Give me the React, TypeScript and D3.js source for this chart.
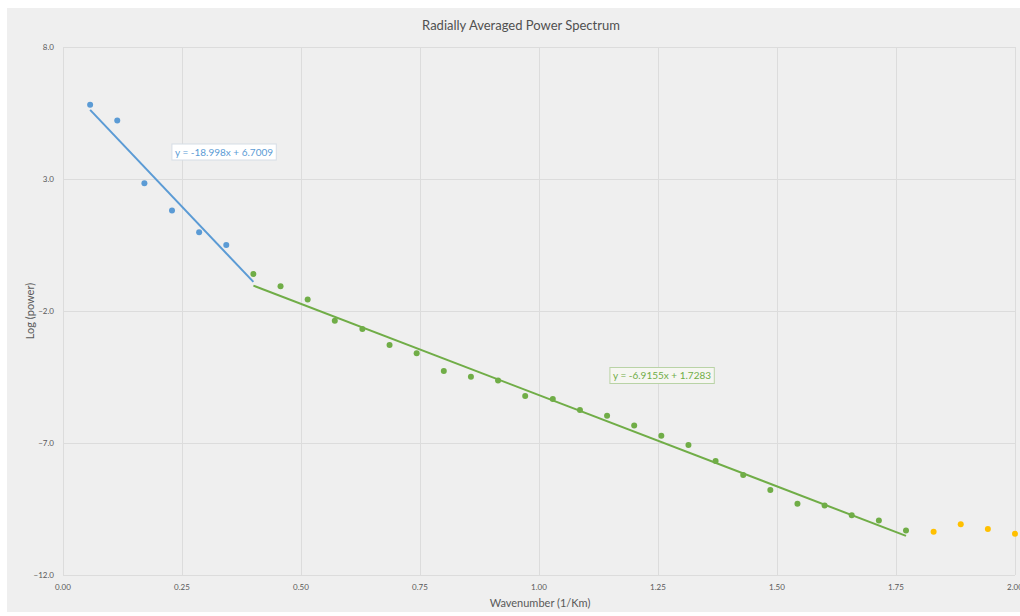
import React, { useEffect, useRef } from 'react';
import * as d3 from 'd3';

// wavenumber (1/Km) and log(power)
const blueX = [0.057, 0.114, 0.171, 0.229, 0.286, 0.343];
const blueY = [5.81, 5.22, 2.84, 1.81, 0.98, 0.5];
const greenX = [
  0.4, 0.457, 0.514, 0.571, 0.629, 0.686, 0.743, 0.8, 0.857, 0.914, 0.971, 1.029, 1.086,
  1.143, 1.2, 1.257, 1.314, 1.371, 1.429, 1.486, 1.543, 1.6, 1.657, 1.714, 1.771,
];
const greenY = [
  -0.6, -1.06, -1.56, -2.37, -2.68, -3.29, -3.6, -4.27, -4.49, -4.63, -5.22, -5.33, -5.75,
  -5.97, -6.34, -6.73, -7.08, -7.68, -8.21, -8.78, -9.3, -9.37, -9.74, -9.94, -10.31,
];
const yellowX = [1.829, 1.886, 1.943, 2.0];
const yellowY = [-10.36, -10.08, -10.26, -10.44];

// trendline coefficients, as printed on the chart, and the x span each is drawn over
const blueFit = { slope: -18.998, icept: 6.7009, from: 0.057, to: 0.4, label: 'y = -18.998x + 6.7009' };
const greenFit = { slope: -6.9155, icept: 1.7283, from: 0.4, to: 1.771, label: 'y = -6.9155x + 1.7283' };

const xTicks = [0, 0.25, 0.5, 0.75, 1, 1.25, 1.5, 1.75, 2];
const yTicks = [8, 3, -2, -7, -12];

const W = 1020;
const H = 616;
const margin = { top: 47, right: 5, bottom: 41, left: 63 };

const BLUE = '#5b9bd5';
const GREEN = '#70ad47';
const YELLOW = '#ffc000';
const TXT = '#595959';
const FONT = 'Lato, "Liberation Sans", sans-serif';

export default function App() {
  const ref = useRef<SVGSVGElement>(null);

  useEffect(() => {
    const svg = d3.select(ref.current);
    svg.selectAll('*').remove();

    const x = d3.scaleLinear().domain([0, 2]).range([margin.left, W - margin.right]);
    const y = d3.scaleLinear().domain([-12, 8]).range([H - margin.bottom, margin.top]);

    svg.append('rect').attr('width', W).attr('height', H).attr('fill', '#ffffff');
    svg.append('rect').attr('x', 7).attr('y', 8).attr('width', W - 7).attr('height', H - 12).attr('fill', '#efefef');

    // grid
    const grid = svg.append('g').attr('stroke', '#dcdcdc').attr('stroke-width', 1);
    grid.selectAll('line.v').data(xTicks).join('line')
      .attr('class', 'v')
      .attr('x1', d => Math.round(x(d)) + 0.5).attr('x2', d => Math.round(x(d)) + 0.5)
      .attr('y1', y(8)).attr('y2', y(-12));
    grid.selectAll('line.h').data(yTicks).join('line')
      .attr('class', 'h')
      .attr('y1', d => Math.round(y(d)) + 0.5).attr('y2', d => Math.round(y(d)) + 0.5)
      .attr('x1', x(0)).attr('x2', x(2));

    // tick labels
    svg.append('g').selectAll('text').data(xTicks).join('text')
      .attr('x', d => x(d)).attr('y', y(-12) + 15)
      .attr('text-anchor', 'middle')
      .attr('font-family', FONT).attr('font-size', 8).attr('fill', TXT)
      .text(d => d3.format('.2f')(d));
    svg.append('g').selectAll('text').data(yTicks).join('text')
      .attr('x', x(0) - 9).attr('y', d => y(d) + 3)
      .attr('text-anchor', 'end')
      .attr('font-family', FONT).attr('font-size', 8).attr('fill', TXT)
      .text(d => d3.format('.1f')(d));

    // titles
    svg.append('text')
      .attr('x', 521).attr('y', 30)
      .attr('text-anchor', 'middle')
      .attr('font-family', FONT).attr('font-size', 13).attr('fill', '#505050')
      .text('Radially Averaged Power Spectrum');
    svg.append('text')
      .attr('x', 540).attr('y', 607)
      .attr('text-anchor', 'middle')
      .attr('font-family', FONT).attr('font-size', 11).attr('fill', TXT)
      .text('Wavenumber (1/Km)');
    svg.append('text')
      .attr('transform', `translate(34,${(margin.top + H - margin.bottom) / 2}) rotate(-90)`)
      .attr('text-anchor', 'middle')
      .attr('font-family', FONT).attr('font-size', 11).attr('fill', TXT)
      .text('Log (power)');

    // trendlines
    const drawFit = (fit: typeof blueFit, color: string) => {
      const line = d3.line<number>().x(d => x(d)).y(d => y(fit.slope * d + fit.icept));
      svg.append('path')
        .datum([fit.from, fit.to])
        .attr('fill', 'none').attr('stroke', color).attr('stroke-width', 2)
        .attr('d', line);
    };
    drawFit(blueFit, BLUE);
    drawFit(greenFit, GREEN);

    // points
    const drawPts = (xs: number[], ys: number[], color: string) => {
      svg.append('g').selectAll('circle').data(xs).join('circle')
        .attr('cx', d => x(d)).attr('cy', (d, i) => y(ys[i]))
        .attr('r', 3).attr('fill', color);
    };
    drawPts(blueX, blueY, BLUE);
    drawPts(greenX, greenY, GREEN);
    drawPts(yellowX, yellowY, YELLOW);

    // equation labels
    const eq = (text: string, cx: number, cy: number, color: string, border: string, fill: string) => {
      const g = svg.append('g');
      const t = g.append('text')
        .attr('x', cx).attr('y', cy + 3.5)
        .attr('text-anchor', 'middle')
        .attr('font-family', FONT).attr('font-size', 10).attr('fill', color)
        .text(text);
      const bb = (t.node() as SVGTextElement).getBBox();
      g.insert('rect', 'text')
        .attr('x', bb.x - 3).attr('y', cy - 8).attr('width', bb.width + 6).attr('height', 16)
        .attr('fill', fill).attr('stroke', border).attr('stroke-width', 1);
    };
    eq(blueFit.label, 224, 152, BLUE, '#d6dde6', '#ffffff');
    eq(greenFit.label, 662, 375.5, GREEN, '#b9d3a6', '#f6f6f2');
  }, []);

  return (
    <svg
      ref={ref}
      width={W}
      height={H}
      style={{ position: 'absolute', left: 0, top: 0, display: 'block' }}
    />
  );
}
